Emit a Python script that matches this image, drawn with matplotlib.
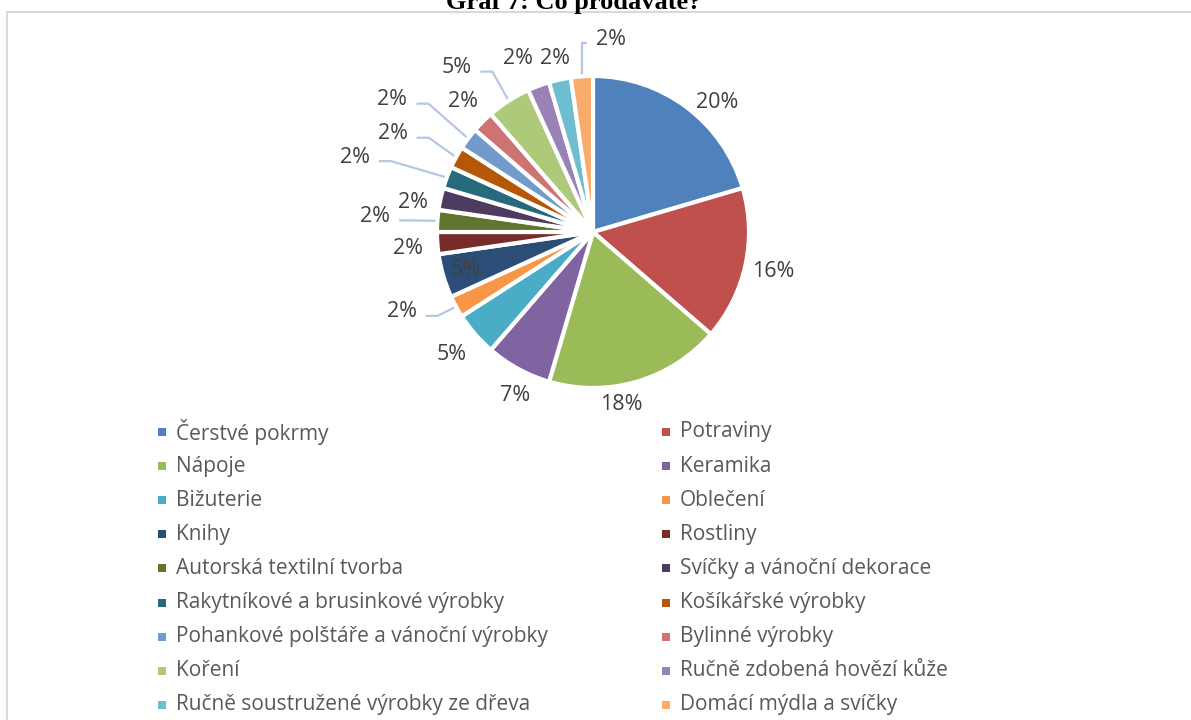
import numpy as np
import matplotlib.pyplot as plt

# what the stallholders sell (number of answers)
categories = [
    "Čerstvé pokrmy", "Potraviny", "Nápoje", "Keramika", "Bižuterie",
    "Oblečení", "Knihy", "Rostliny", "Autorská textilní tvorba",
    "Svíčky a vánoční dekorace", "Rakytníkové a brusinkové výrobky",
    "Košíkářské výrobky", "Pohankové polštáře a vánoční výrobky",
    "Bylinné výrobky", "Koření", "Ručně zdobená hovězí kůže",
    "Ručně soustružené výrobky ze dřeva", "Domácí mýdla a svíčky",
]
counts = [9, 7, 8, 3, 2, 1, 2, 1, 1, 1, 1, 1, 1, 1, 2, 1, 1, 1]

colors = [
    "#4f81bd", "#c0504d", "#9bbb59", "#8064a2", "#4bacc6", "#f79646",
    "#2c4d75", "#772c2a", "#5f7530", "#4d3b62", "#276a7c", "#b65708",
    "#729aca", "#cd7371", "#afc97a", "#9983b5", "#6fbdd1", "#f9ab6b",
]

# label placement: distance in radii, angular shift in degrees, leader line
label_r = [1.15, 1.18, 1.12, 1.16, 1.20, 1.33, 0.85, 1.19, 1.40,
           1.17, 1.60, 1.43, 1.54, 1.18, 1.37, 1.21, 1.14, 1.24]
label_shift = [-7, 0, -7, 3, 0, -6, 0, 1, 0, 3, 3, 2.5, 3.4, 0, 7, 3, 0, -9.5]
leader = [False, False, False, False, False, True, False, False, True,
          False, True, True, True, False, True, False, False, True]

W, H = 1191, 720
FONT = "Open Sans"
TEXT_GREY = "#595959"
LABEL_GREY = "#404040"

fig = plt.figure(figsize=(W / 100, H / 100), dpi=100)
ax = fig.add_axes([0, 0, 1, 1])

cx, cy, R = 593, H - 232, 156
wedges, _ = ax.pie(counts, colors=colors, startangle=90, counterclock=False,
                   center=(cx, cy), radius=R, frame=True,
                   wedgeprops=dict(edgecolor="white", linewidth=3))

total = sum(counts)
for w, n, r, sh, ld in zip(wedges, counts, label_r, label_shift, leader):
    mid = (w.theta1 + w.theta2) / 2
    ang = np.deg2rad(mid + sh)
    lx = cx + r * R * np.cos(ang)
    ly = cy + r * R * np.sin(ang)
    ax.text(lx, ly, f"{round(100 * n / total)}%", ha="center", va="center",
            fontsize=15.5, family=FONT, color=LABEL_GREY)
    if ld:
        ex = cx + R * np.cos(np.deg2rad(mid))
        ey = cy + R * np.sin(np.deg2rad(mid))
        side = 1 if ex > lx else -1
        x0 = lx + side * 24
        y0 = ly - 4
        step = min(12, abs(ex - x0))
        x1 = x0 + side * step
        ax.plot([x0, x1, ex], [y0, y0, ey], color="#b4c7e4", lw=1.6,
                solid_capstyle="butt", zorder=0)

# legend in two columns
row_y = [432 + 34.1 * i for i in range(9)]
col_x = [162, 666]
for i, (name, c) in enumerate(zip(categories, colors)):
    x = col_x[i % 2]
    y = H - row_y[i // 2]
    ax.scatter([x], [y], marker="s", s=32, color=c, linewidths=0)
    ax.text(x + 14, y, name, ha="left", va="center", fontsize=15,
            family=FONT, color=TEXT_GREY)

# chart frame and heading
ax.plot([7, 7, W], [0, H - 12, H - 12], color="#d9d9d9", lw=1.5,
        solid_joinstyle="miter")
ax.text(574, H - 9, "Graf 7: Co prodáváte?", ha="center", va="baseline",
        fontsize=19, fontweight="bold", family="Liberation Serif",
        color="black")

ax.set_xlim(0, W)
ax.set_ylim(0, H)
ax.set_aspect("auto")
ax.axis("off")

fig.savefig("out.png", dpi=100)
